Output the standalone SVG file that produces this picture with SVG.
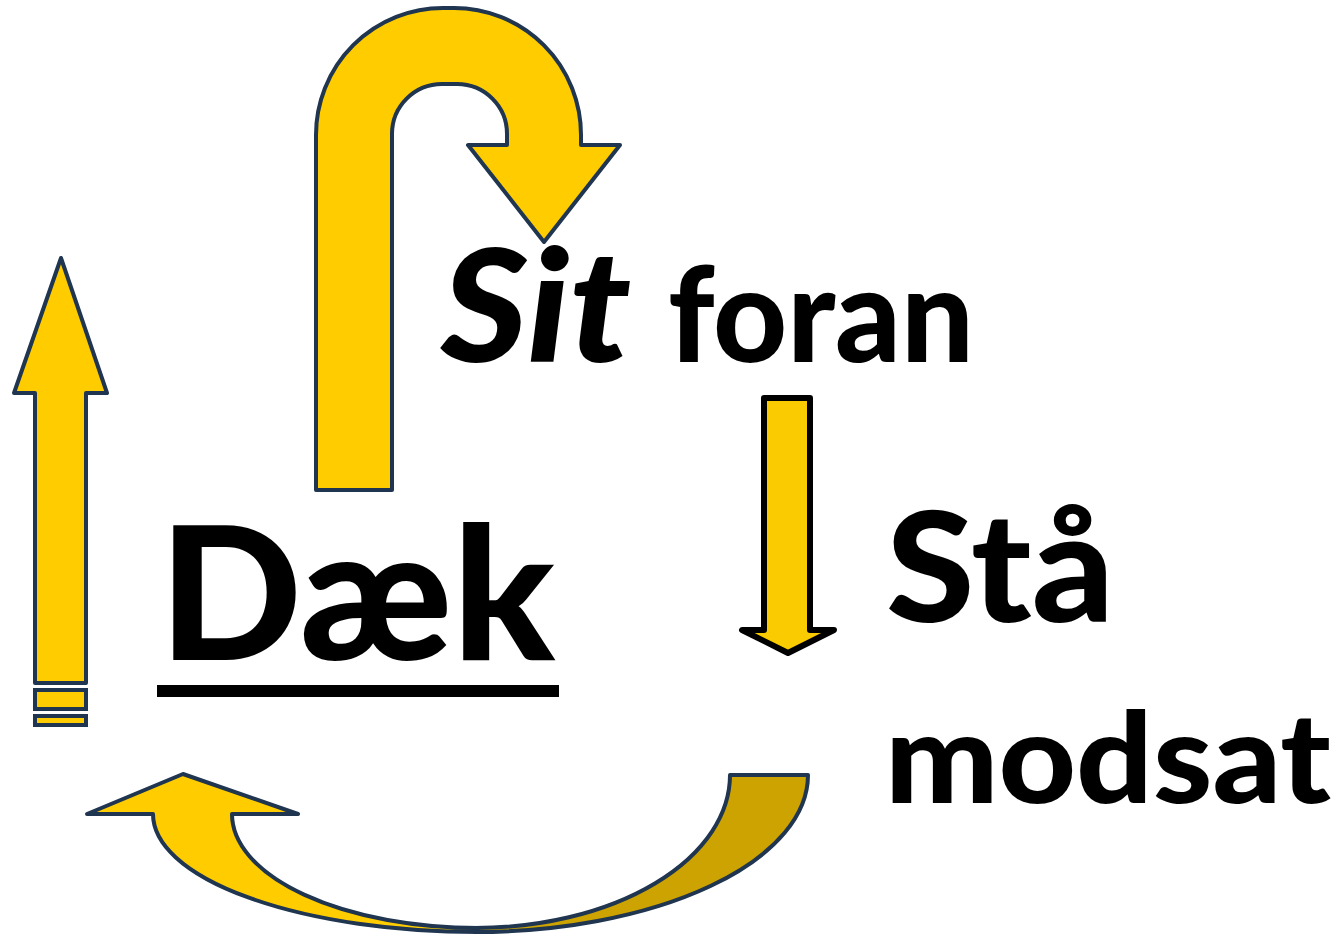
<svg xmlns="http://www.w3.org/2000/svg" width="1340" height="937" viewBox="0 0 1340 937">
<style>
.arr{fill:#FFCC00;stroke:#1F3550;stroke-width:4;stroke-linejoin:round}
.dark{fill:#CCA300;stroke:#1F3550;stroke-width:4;stroke-linejoin:round}
.t{font-family:Lato,"Open Sans","Liberation Sans",sans-serif;font-weight:900;fill:#000}
</style>
<rect width="1340" height="937" fill="#fff"/>
<g id="connectors">
<g id="uturn">
<path class="arr" d="M316,490 L316,135 A127,127 0 0 1 443,8 L454,8 A127,127 0 0 1 581,135 L581,145 L620,145 L544,242 L468,145 L507,145 L507,134 A50,50 0 0 0 457,84 L442,84 A50,50 0 0 0 392,134 L392,490 Z"/>
</g>
<g id="uparrow">
<path class="arr" stroke-width="3" d="M35,683 L35,393 L14,393 L61,258 L107,393 L86,393 L86,683 Z"/>
<rect x="35" y="690" width="51" height="19" fill="#FFCC00" stroke="#1F3550" stroke-width="4"/>
<rect x="35" y="716" width="51" height="9" fill="#FFCC00" stroke="#1F3550" stroke-width="4"/>
</g>
<g id="downarrow">
<path d="M764,398 L810,398 L810,630 L834,630 L788,653 L742,630 L764,630 Z" fill="#F9CB00" stroke="#000" stroke-width="6" stroke-linejoin="round"/>
</g>
<g id="curvedarrow">
<path class="dark" d="M730,775 L808,775 A333,157 0 0 1 475,932 L475,928 A255,153 0 0 0 730,775 Z"/>
<path class="arr" d="M87,814 L183,774 L298,814 L232,814 A246,114 0 0 0 478,928 L478,932 A325,118 0 0 1 153,814 Z"/>
</g>
</g>
<g id="sit-foran">
<text class="t" x="441" y="362" font-size="156" font-style="italic" textLength="190" lengthAdjust="spacingAndGlyphs">Sit</text>
<text class="t" x="668" y="362" font-size="132" textLength="306" lengthAdjust="spacingAndGlyphs">foran</text>
</g>
<g id="daek">
<text class="t" x="159" y="660" font-size="185" textLength="396" lengthAdjust="spacingAndGlyphs">Dæk</text>
<rect x="157" y="685" width="402" height="12" fill="#000"/>
</g>
<g id="staa">
<text class="t" x="886" y="622" font-size="153" textLength="228" lengthAdjust="spacingAndGlyphs">Stå</text>
</g>
<g id="modsat">
<text class="t" x="885" y="803" font-size="125" textLength="446" lengthAdjust="spacingAndGlyphs">modsat</text>
</g>
</svg>
